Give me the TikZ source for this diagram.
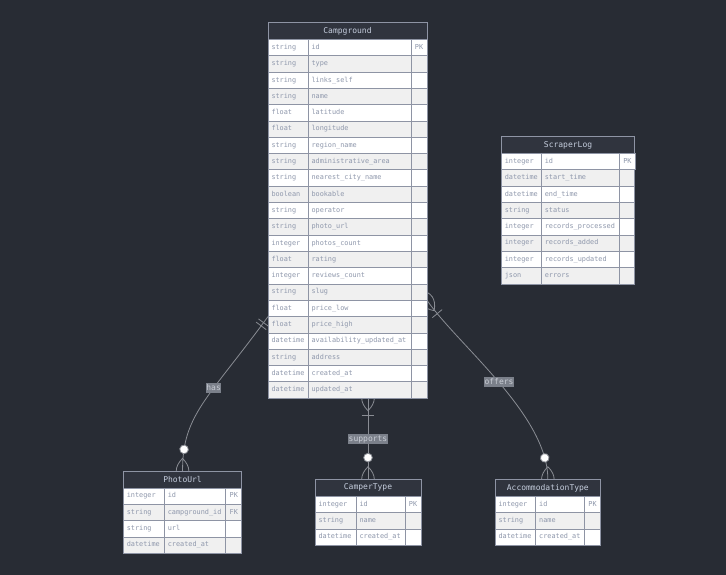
\documentclass[tikz,border=0pt]{standalone}
\usepackage{fontspec}
\setmonofont{DejaVu Sans Mono}
\usetikzlibrary{calc,decorations.markings}
\definecolor{fond}{HTML}{282C34}
\definecolor{entete}{HTML}{30343E}
\definecolor{bordure}{HTML}{8E94A4}
\definecolor{gris}{HTML}{F0F0F0}
\definecolor{texteCase}{HTML}{8F98AC}
\definecolor{texteEntete}{HTML}{C5CDDD}
\definecolor{trait}{HTML}{8A8D94}
\definecolor{fondEtiquette}{HTML}{7B808A}
\definecolor{texteEtiquette}{HTML}{C8CCD4}
\pgfdeclarelayer{arriere}
\pgfdeclarelayer{liens}
\pgfsetlayers{arriere,liens,main}
% Extremites des liens (marques le long du trait)
\tikzset{
  unSeul/.style={postaction={decorate,decoration={markings,
    mark=at position 7.5pt with {\draw[lien] (0pt,-6.3pt)--(0pt,6.3pt);},
    mark=at position 11.5pt with {\draw[lien] (0pt,-6.3pt)--(0pt,6.3pt);}}}},
  plusieurs/.style={postaction={decorate,decoration={markings,
    mark=at position 0pt with {\draw[lien] (-12.6pt,0pt) .. controls (-4.2pt,-8.4pt) and (4.2pt,-8.4pt) .. (12.6pt,0pt) .. controls (4.2pt,8.4pt) and (-4.2pt,8.4pt) .. cycle;},
    mark=at position 16.8pt with {\draw[lien] (0pt,-6.3pt)--(0pt,6.3pt);}}}},
  zeroPlusieurs/.style={postaction={decorate,decoration={markings,
    mark=at position -21.7pt with {\draw[lien,fill=white] (0pt,0pt) circle (4.3pt);}}}}
}

\begin{document}
\begin{tikzpicture}[x=1pt,y=-1pt]
% Styles
\tikzstyle{titre}=[draw=bordure,line width=0.8pt,fill=entete,text=texteEntete,anchor=north west,inner sep=0pt,outer sep=0pt,minimum height=17pt,font=\ttfamily\fontsize{8}{9}\selectfont]
\tikzstyle{case}=[draw=bordure,line width=0.8pt,anchor=north west,inner xsep=3.5pt,inner ysep=0pt,outer sep=0pt,minimum height=16.3pt,text height=5.2pt,text depth=1.6pt,align=left,text=texteCase,font=\ttfamily\fontsize{6.85}{8}\selectfont]
\tikzstyle{lien}=[draw=trait,line width=0.8pt]
\tikzstyle{etiquette}=[fill=fondEtiquette,text=texteEtiquette,inner xsep=0.5pt,inner ysep=1.5pt,text height=5.8pt,text depth=1.2pt,font=\ttfamily\fontsize{8}{9}\selectfont]
% Cadre
\useasboundingbox (0,0) rectangle (726,575);
\begin{pgfonlayer}{arriere}
\fill[fond] (0,0) rectangle (726,575);
\end{pgfonlayer}
% Campground
\node[titre,minimum width=159pt] (cg) at (268,22.5) {Campground};
\foreach \t/\n/\k [count=\i] in {string/id/PK, string/type/{}, string/links\_self/{}, string/name/{}, float/latitude/{}, float/longitude/{}, string/region\_name/{}, string/administrative\_area/{}, string/nearest\_city\_name/{}, boolean/bookable/{}, string/operator/{}, string/photo\_url/{}, integer/photos\_count/{}, float/rating/{}, integer/reviews\_count/{}, string/slug/{}, float/price\_low/{}, float/price\_high/{}, datetime/availability\_updated\_at/{}, string/address/{}, datetime/created\_at/{}, datetime/updated\_at/{}}{
  \ifodd\i\relax\def\teinte{white}\else\def\teinte{gris}\fi
  \node[case,fill=\teinte,text width=33pt] (cg-r\i-t) at (268,{39.5+(\i-1)*16.3}) {\t};
  \node[case,fill=\teinte,text width=96pt] (cg-r\i-n) at (cg-r\i-t.north east) {\n};
  \node[case,fill=\teinte,minimum width=16pt] (cg-r\i-k) at (cg-r\i-n.north east) {\k};
}
% ScraperLog
\node[titre,minimum width=133.5pt] (sl) at (501.3,136.5) {ScraperLog};
\foreach \t/\n/\k [count=\i] in {integer/id/PK, datetime/start\_time/{}, datetime/end\_time/{}, string/status/{}, integer/records\_processed/{}, integer/records\_added/{}, integer/records\_updated/{}, json/errors/{}}{
  \ifodd\i\relax\def\teinte{white}\else\def\teinte{gris}\fi
  \node[case,fill=\teinte,text width=33pt] (sl-r\i-t) at (501.3,{153.5+(\i-1)*16.3}) {\t};
  \node[case,fill=\teinte,text width=71.5pt] (sl-r\i-n) at (sl-r\i-t.north east) {\n};
  \node[case,fill=\teinte,minimum width=15pt] (sl-r\i-k) at (sl-r\i-n.north east) {\k};
}
% PhotoUrl
\node[titre,minimum width=118.5pt] (pu) at (123.3,471) {PhotoUrl};
\foreach \t/\n/\k [count=\i] in {integer/id/PK, string/campground\_id/FK, string/url/{}, datetime/created\_at/{}}{
  \ifodd\i\relax\def\teinte{white}\else\def\teinte{gris}\fi
  \node[case,fill=\teinte,text width=34pt] (pu-r\i-t) at (123.3,{488+(\i-1)*16.3}) {\t};
  \node[case,fill=\teinte,text width=54.5pt] (pu-r\i-n) at (pu-r\i-t.north east) {\n};
  \node[case,fill=\teinte,minimum width=16pt] (pu-r\i-k) at (pu-r\i-n.north east) {\k};
}
% CamperType
\node[titre,minimum width=106pt] (ct) at (315,479.3) {CamperType};
\foreach \t/\n/\k [count=\i] in {integer/id/PK, string/name/{}, datetime/created\_at/{}}{
  \ifodd\i\relax\def\teinte{white}\else\def\teinte{gris}\fi
  \node[case,fill=\teinte,text width=34pt] (ct-r\i-t) at (315,{496.3+(\i-1)*16.3}) {\t};
  \node[case,fill=\teinte,text width=42pt] (ct-r\i-n) at (ct-r\i-t.north east) {\n};
  \node[case,fill=\teinte,minimum width=16pt] (ct-r\i-k) at (ct-r\i-n.north east) {\k};
}
% AccommodationType
\node[titre,minimum width=105.7pt] (at) at (495,479.3) {AccommodationType};
\foreach \t/\n/\k [count=\i] in {integer/id/PK, string/name/{}, datetime/created\_at/{}}{
  \ifodd\i\relax\def\teinte{white}\else\def\teinte{gris}\fi
  \node[case,fill=\teinte,text width=33.7pt] (at-r\i-t) at (495,{496.3+(\i-1)*16.3}) {\t};
  \node[case,fill=\teinte,text width=41.6pt] (at-r\i-n) at (at-r\i-t.north east) {\n};
  \node[case,fill=\teinte,minimum width=16.4pt] (at-r\i-k) at (at-r\i-n.north east) {\k};
}
% Liens (sous les tables)
\begin{pgfonlayer}{liens}
\draw[lien,unSeul,zeroPlusieurs] (cg-r18-t.north west) .. controls (207,400) and (182.5,415) .. (pu.north) node[etiquette,pos=0.38] (lhas) {has};
\draw[lien,plusieurs,zeroPlusieurs] (cg-r22-n.south -| ct.north) -- (ct.north) node[etiquette,pos=0.5] (lsupports) {supports};
\draw[lien,plusieurs,zeroPlusieurs] (cg-r16-k.south east) .. controls (458,345) and (547.8,415) .. (at.north) node[etiquette,pos=0.5] (loffers) {offers};
% pattes cote enfant
\foreach \e in {pu,ct,at}{
  \begin{scope}[shift={(\e.north)}]
  \draw[lien] (0,-12.6) .. controls (-8.4,-4.2) and (-8.4,4.2) .. (0,12.6) .. controls (8.4,4.2) and (8.4,-4.2) .. cycle;
  \end{scope}
}
\end{pgfonlayer}
\end{tikzpicture}
\end{document}
